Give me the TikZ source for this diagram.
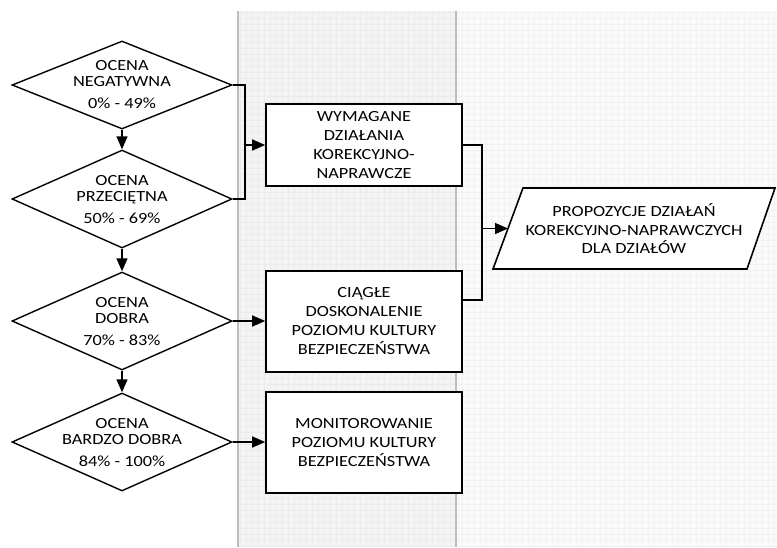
\documentclass[tikz,border=0pt]{standalone}
\usepackage{fontspec}
\setmainfont[FakeStretch=1.18]{Carlito}
\usetikzlibrary{shapes.geometric,arrows.meta}
\definecolor{laneA}{HTML}{F4F4F4}
\definecolor{laneB}{HTML}{FAFAFA}
\definecolor{gridA}{HTML}{EBEBEB}
\definecolor{gridB}{HTML}{F2F2F2}
\definecolor{laneline}{HTML}{BDBDBD}
\tikzset{
  decision/.style={diamond, draw=black, line width=1.4pt, fill=white, minimum width=220pt, inner sep=0pt, aspect=2.2},
  dtext/.style={align=center, font=\fontsize{15.5}{16}\selectfont, inner sep=0pt},
  actbox/.style={rectangle, draw=black, line width=1.6pt, fill=white, minimum width=196pt, align=center, font=\fontsize{15.5}{19}\selectfont, inner sep=0pt},
  ioshape/.style={draw=black, line width=1.6pt, fill=white, line join=miter},
  ptext/.style={align=center, font=\fontsize{15.5}{18.5}\selectfont, inner sep=0pt},
  conn/.style={line width=1.4pt, draw=black},
  arr/.style={conn, -{Triangle[length=13pt,width=11pt]}}
}
\begin{document}
\begin{tikzpicture}[x=1pt,y=-1pt]
\useasboundingbox (0,0) rectangle (777,547);
% swimlanes
\fill[laneA] (238,11) rectangle (456,547);
\fill[laneB] (456,11) rectangle (777,547);
\begin{scope}
\clip (238,11) rectangle (456,547);
\draw[gridA, line width=0.4pt, step=6pt] (238,11) grid (456,547);
\end{scope}
\begin{scope}
\clip (456,11) rectangle (777,547);
\draw[gridB, line width=0.4pt, step=6pt] (456,11) grid (777,547);
\end{scope}
\draw[laneline, line width=2pt] (238,11) -- (238,547);
\draw[laneline, line width=1.5pt] (456,11) -- (456,547);

% decisions
\node[decision, minimum height=88pt] (d1) at (122,85) {};
\node[dtext] (d1t) at (122,85) {OCENA\\NEGATYWNA\\[6pt]0\% - 49\%};
\node[decision, minimum height=98pt] (d2) at (122,199) {};
\node[dtext] (d2t) at (122,200) {OCENA\\PRZECIĘTNA\\[6pt]50\% - 69\%};
\node[decision, minimum height=98pt] (d3) at (122,321) {};
\node[dtext] (d3t) at (122,322) {OCENA\\DOBRA\\[6pt]70\% - 83\%};
\node[decision, minimum height=98pt] (d4) at (122,442) {};
\node[dtext] (d4t) at (122,443) {OCENA\\BARDZO DOBRA\\[6pt]84\% - 100\%};

% action boxes
\node[actbox, minimum height=82pt] (b1) at (364,145) {WYMAGANE\\DZIAŁANIA\\KOREKCYJNO-\\NAPRAWCZE};
\node[actbox, minimum height=101pt] (b2) at (364,321.5) {CIĄGŁE\\DOSKONALENIE\\POZIOMU KULTURY\\BEZPIECZEŃSTWA};
\node[actbox, minimum height=101pt] (b3) at (364,442.5) {MONITOROWANIE\\POZIOMU KULTURY\\BEZPIECZEŃSTWA};

% output (parallelogram)
\coordinate (ptl) at (523,188);
\coordinate (ptr) at (775,188);
\coordinate (pbr) at (747,269);
\coordinate (pbl) at (493,269);
\coordinate (pin) at (508,228.5);
\draw[ioshape] (ptl) -- (ptr) -- (pbr) -- (pbl) -- cycle;
\node[ptext] (pt) at (634,229) {PROPOZYCJE DZIAŁAŃ\\KOREKCYJNO-NAPRAWCZYCH\\DLA DZIAŁÓW};

% junction coordinates
\coordinate (j1) at (245,145);
\coordinate (j2) at (482,228.5);
\coordinate (b2o) at (462,300);

% vertical flow
\draw[arr] (d1.south) -- (d2.north);
\draw[arr] (d2.south) -- (d3.north);
\draw[arr] (d3.south) -- (d4.north);

% merge of d1 and d2 into b1
\draw[conn] (d1.east) -- (d1.east -| j1) -- (d2.east -| j1) -- (d2.east);
\draw[arr] (j1) -- (b1.west);
\draw[arr] (d3.east) -- (d3.east -| b2.west);
\draw[arr] (d4.east) -- (d4.east -| b3.west);

% into output
\draw[conn] (b1.east) -- (b1.east -| j2) -- (j2);
\draw[conn] (b2o) -- (b2o -| j2) -- (j2);
\draw[arr] (j2) -- (pin);
\end{tikzpicture}
\end{document}
